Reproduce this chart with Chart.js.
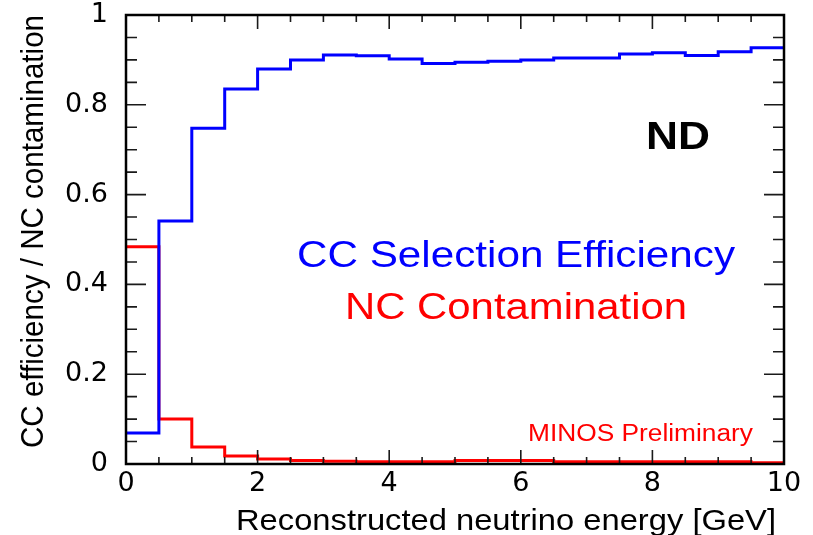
<!DOCTYPE html>
<html>
<head>
<meta charset="utf-8">
<script src="https://cdn.jsdelivr.net/npm/chart.js@4.4.1/dist/chart.umd.min.js"></script>
<style>
  html, body { margin: 0; padding: 0; background: #ffffff; }
  #wrap { width: 813px; height: 535px; }
</style>
</head>
<body>
<div id="wrap"><canvas id="c" width="813" height="535"></canvas></div>
<script>
// ---- data (histogram bins of 0.5 GeV) ----
const binLowEdges = [0, 0.5, 1, 1.5, 2, 2.5, 3, 3.5, 4, 4.5, 5, 5.5, 6, 6.5, 7, 7.5, 8, 8.5, 9, 9.5];
const ccEfficiency = [0.069, 0.541, 0.748, 0.835, 0.880, 0.900, 0.911, 0.909, 0.902, 0.892,
                      0.895, 0.897, 0.900, 0.904, 0.904, 0.913, 0.916, 0.910, 0.918, 0.927];
const ncContamination = [0.484, 0.100, 0.038, 0.018, 0.011, 0.008, 0.006, 0.005, 0.005, 0.005,
                         0.008, 0.008, 0.008, 0.005, 0.005, 0.005, 0.005, 0.005, 0.005, 0.003];
const xTickValues = [0, 2, 4, 6, 8, 10];
const yTickValues = [0, 0.2, 0.4, 0.6, 0.8, 1];
const xAxisTitle = 'Reconstructed neutrino energy [GeV]';
const yAxisTitle = 'CC efficiency / NC contamination';
const detectorLabel = 'ND';
const ccLabel = 'CC Selection Efficiency';
const ncLabel = 'NC Contamination';
const prelimLabel = 'MINOS Preliminary';

const FONT = '"Liberation Sans", Arial, Helvetica, sans-serif';
const TICK_FONT = '"DejaVu Sans", "Liberation Sans", sans-serif';
const xMin = xTickValues[0], xMax = xTickValues[xTickValues.length - 1];
const yMin = yTickValues[0], yMax = yTickValues[yTickValues.length - 1];

function histPoints(values) {
  const pts = binLowEdges.map((x, i) => ({ x: x, y: values[i] }));
  pts.push({ x: xMax, y: values[values.length - 1] });
  return pts;
}

function fitText(ctx, text, left, right, baseline, size, color, bold) {
  ctx.save();
  ctx.font = (bold ? 'bold ' : '') + size + 'px ' + FONT;
  ctx.fillStyle = color;
  ctx.textAlign = 'left';
  ctx.textBaseline = 'alphabetic';
  const w = ctx.measureText(text).width;
  ctx.translate(left, baseline);
  ctx.scale((right - left) / w, 1);
  ctx.fillText(text, 0, 0);
  ctx.restore();
}

const framePlugin = {
  id: 'rootFrame',
  afterDatasetsDraw(chart) {
    const ctx = chart.ctx;
    const a = chart.chartArea;
    const xs = chart.scales.x, ys = chart.scales.y;
    ctx.save();
    // ticks (inside, ROOT style)
    ctx.strokeStyle = '#1a1a1a';
    ctx.lineWidth = 1.6;
    ctx.beginPath();
    for (let v = xMin; v <= xMax + 1e-9; v += 0.5) {
      const px = xs.getPixelForValue(v);
      const major = xTickValues.some(t => Math.abs(t - v) < 1e-9);
      const len = major ? 14 : 7;
      ctx.moveTo(px, a.bottom); ctx.lineTo(px, a.bottom - len);
      ctx.moveTo(px, a.top); ctx.lineTo(px, a.top + len);
    }
    for (let v = yMin; v <= yMax + 1e-9; v += 0.05) {
      const py = ys.getPixelForValue(v);
      const major = yTickValues.some(t => Math.abs(t - v) < 1e-9);
      const len = major ? 20 : 11;
      ctx.moveTo(a.left, py); ctx.lineTo(a.left + len, py);
      ctx.moveTo(a.right, py); ctx.lineTo(a.right - len, py);
    }
    ctx.stroke();
    // frame
    ctx.strokeStyle = '#000000';
    ctx.lineWidth = 2.5;
    ctx.strokeRect(a.left, a.top, a.right - a.left, a.bottom - a.top);
    ctx.restore();
  },
  afterDraw(chart) {
    const ctx = chart.ctx;
    fitText(ctx, detectorLabel, 646, 710, 149, 39, '#000000', true);
    fitText(ctx, ccLabel, 297, 735, 267, 36, '#0000ff', false);
    fitText(ctx, ncLabel, 345, 687, 319, 37, '#ff0000', false);
    fitText(ctx, prelimLabel, 528, 753, 441, 23, '#ff0000', false);
    fitText(ctx, xAxisTitle, 236, 776, 530, 29, '#000000', false);
    // rotated y title
    ctx.save();
    ctx.font = '29px ' + FONT;
    ctx.fillStyle = '#000000';
    ctx.textAlign = 'left';
    ctx.textBaseline = 'alphabetic';
    const w = ctx.measureText(yAxisTitle).width;
    ctx.translate(43, 448);
    ctx.rotate(-Math.PI / 2);
    ctx.scale((448 - 15) / w, 1.1);
    ctx.fillText(yAxisTitle, 0, 0);
    ctx.restore();
  }
};

new Chart(document.getElementById('c'), {
  type: 'line',
  data: {
    datasets: [
      {
        label: ccLabel,
        data: histPoints(ccEfficiency),
        borderColor: '#0000ff',
        borderWidth: 3,
        stepped: 'before',
        pointRadius: 0,
        fill: false
      },
      {
        label: ncLabel,
        data: histPoints(ncContamination),
        borderColor: '#ff0000',
        borderWidth: 3,
        stepped: 'before',
        pointRadius: 0,
        fill: false
      }
    ]
  },
  options: {
    responsive: false,
    animation: false,
    devicePixelRatio: 1,
    layout: { padding: { left: 0, top: 15, right: 29, bottom: 0 } },
    plugins: { legend: { display: false }, tooltip: { enabled: false }, title: { display: false } },
    scales: {
      x: {
        type: 'linear',
        min: xMin,
        max: xMax,
        afterFit: (s) => { s.height = 71; s.paddingLeft = 0; s.paddingRight = 0; },
        afterBuildTicks: (s) => { s.ticks = xTickValues.map(v => ({ value: v })); },
        grid: { display: false, drawTicks: false },
        border: { display: false },
        ticks: {
          color: '#000000',
          padding: 6,
          maxRotation: 0,
          font: { family: TICK_FONT, size: 27, lineHeight: 1 }
        }
      },
      y: {
        type: 'linear',
        min: yMin,
        max: yMax,
        afterFit: (s) => { s.width = 126; s.paddingTop = 0; s.paddingBottom = 0; },
        afterBuildTicks: (s) => { s.ticks = yTickValues.map(v => ({ value: v })); },
        grid: { display: false, drawTicks: false },
        border: { display: false },
        ticks: {
          color: '#000000',
          padding: 18,
          font: { family: TICK_FONT, size: 27, lineHeight: 1 },
          callback: (v) => String(Math.round(v * 10) / 10)
        }
      }
    }
  },
  plugins: [framePlugin]
});
</script>
</body>
</html>
